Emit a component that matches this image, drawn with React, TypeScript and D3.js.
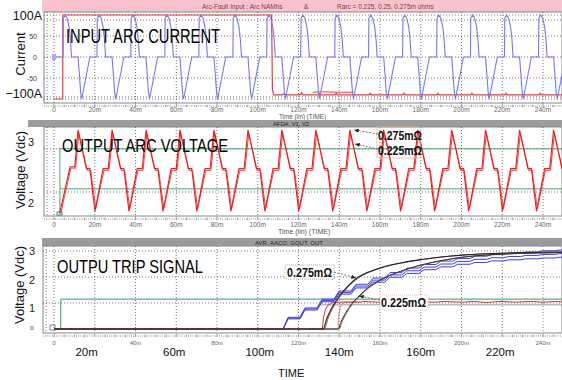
import React from "react";
import * as d3 from "d3";

// ---------- shared x axis (time, ms) ----------
const xTicks = [0, 20, 40, 60, 80, 100, 120, 140, 160, 180, 200, 220, 240];
const xTickText = ["0", "20m", "40m", "60m", "80m", "100m", "120m", "140m", "160m", "180m", "200m", "220m", "240m"];
const p3SmallTicks = [0, 40, 80, 120, 160, 200, 240];
const p3SmallText = ["0", "40m", "80m", "120m", "160m", "200m", "240m"];
const p3BigAt = [16, 59, 101, 140, 180, 219];
const p3BigText = ["20m", "60m", "100m", "140m", "160m", "220m"];

// ---------- panel 1 : input arc current (A) ----------
const curGrid = [100, 88, 50, 0, -50, -95, -100];
const curTickVals = [50, 0, -50];
const curTickText = ["50", "0", "-50"];
const curJumpTimes = [4.4, 21.1, 37.7, 54.4, 71.1, 87.8, 104.4, 121.1, 137.8, 154.4, 171.1, 187.8, 204.4, 221.1, 237.8];
const curCycleOffset = [0, 0.15, 1.0, 2.0, 3.0, 3.7, 4.2, 7.4, 8.1, 8.7, 9.2, 13.2];
const curCycleValue = [0, 92, 100, 93, 72, 40, 0, 0, -45, -85, -100, 0];
const curRed: [number, number][] = [
  [0, -100], [4.3, -100], [4.35, 100], [106.8, 100], [107.2, -78], [107.8, -90], [112, -90], [113, -87], [113.6, -90],
  [121, -90], [121.6, -85], [122.2, -90], [129.5, -90], [130, -87], [130.5, -90], [138, -90], [138.5, -86], [139, -90],
  [154.6, -90], [155.1, -86], [155.6, -90], [171.3, -90], [171.8, -86], [172.3, -90], [179.5, -90], [180, -88], [180.5, -90],
  [188, -90], [188.5, -86], [189, -90], [204.6, -90], [205.1, -86], [205.6, -90], [213, -90], [213.5, -88], [214, -90],
  [221.3, -90], [221.8, -86], [222.3, -90], [238, -90], [238.5, -86], [239, -90], [250, -90],
];
const curRed2: [number, number][] = [[127, -84], [133, -83], [140, -84], [147, -84]];

// ---------- panel 2 : output arc voltage (V) ----------
const voltGrid = [2.96, 2.0];
const voltTickVals = [3.11, 2.02, 1.76];
const voltTickText = ["3", "-", "2"];
const voltStartTimes = [2.9, 7.9, 10.2];
const voltStartValues = [1.55, 2.56, 2.56];
const voltPeakTimes = [11.8, 28.5, 45.2, 61.8, 78.5, 95.2, 111.8, 128.5, 145.2, 161.8, 178.5, 195.2, 211.8, 228.5, 245.2];
const voltCycleOffset = [0, 4.1, 5.8, 8.3, 12.3, 14.8];
const voltCycleA = [3.38, 2.52, 2.52, 1.57, 2.52, 2.52];
const voltCycleB = [3.3, 2.48, 2.48, 1.63, 2.48, 2.48];
const voltGreenHigh: [number, number][] = [[2.9, 1.5], [2.9, 2.96], [250, 2.96]];
const voltGreenLow: [number, number][] = [[2.9, 2.07], [250, 2.07]];

// ---------- panel 3 : trip signal (V) ----------
const tripGrid = [3, 2, 1];
const tripTickVals = [3.0, 1.9, 0.8, 0.05];
const tripTickText = ["3", "2", "1", "0"];
const tripStepTimes = [112.4, 120.7, 129.1, 137.4, 145.7, 154.1, 162.4, 170.7, 179.1, 187.4, 195.7, 204.1, 212.4, 220.7, 229.1, 237.4, 245.7];
const tripMid = [0.42, 0.77, 1.1, 1.4, 1.65, 1.88, 2.08, 2.24, 2.38, 2.5, 2.6, 2.68, 2.74, 2.79, 2.83, 2.87, 2.9];
const tripUp = [0.45, 0.81, 1.15, 1.46, 1.72, 1.96, 2.17, 2.34, 2.48, 2.61, 2.71, 2.8, 2.86, 2.92, 2.96, 3.01, 3.04];
const tripLow = [0.39, 0.73, 1.05, 1.34, 1.58, 1.8, 1.99, 2.14, 2.28, 2.39, 2.49, 2.56, 2.62, 2.66, 2.7, 2.73, 2.76];
const trip275: [number, number][] = [
  [0, 0], [132, 0], [134, 0.42], [136, 0.76], [140, 1.26], [144, 1.63], [148.7, 1.96], [154, 2.18], [160, 2.35],
  [170, 2.54], [180, 2.67], [190, 2.77], [200, 2.84], [215, 2.9], [230, 2.94], [250, 2.96],
];
const trip225: [number, number][] = [
  [0, 0], [139.4, 0], [141, 0.3], [143, 0.6], [146, 0.96], [149.2, 1.23], [154, 1.58], [160, 1.88], [170, 2.22],
  [180, 2.46], [190, 2.63], [200, 2.76], [215, 2.86], [230, 2.91], [250, 2.94],
];
const tripRedA: [number, number][] = [
  [125, 0], [131.7, 0], [132.3, 0.45], [133.2, 0.75], [134.5, 0.92], [136.5, 1.01], [142, 1.04], [150, 1.03], [152, 1.06],
  [160, 1.03], [166, 1.06], [172, 1.03], [178, 1.07], [186, 1.03], [192, 1.06], [200, 1.03], [206, 1.06], [212, 1.02],
  [220, 1.06], [226, 1.03], [234, 1.06], [240, 1.03], [246, 1.06], [250, 1.04],
];
const tripRedB: [number, number][] = [[139.4, 0], [139.8, 0.5], [140.4, 0.82], [141.4, 0.98], [143, 1.03], [150, 1.04]];
const tripGreen: [number, number][] = [[0, 0], [3.3, 0], [3.35, 1.15], [250, 1.15]];
const tripGray: [number, number][] = [[131, 0.93], [250, 0.93]];

// ---------- helpers ----------
function cycles(starts: number[], offs: number[], vals: number[], shift = 0): [number, number][] {
  const out: [number, number][] = [];
  starts.forEach((s) => offs.forEach((o, i) => out.push([s + o + shift, vals[i]])));
  return out;
}
function steps(times: number[], levels: number[], ramp: number): [number, number][] {
  const out: [number, number][] = [[0, 0], [times[0], 0]];
  times.forEach((t, i) => {
    out.push([t + ramp, levels[i]]);
    out.push([i + 1 < times.length ? times[i + 1] : 250, levels[i]]);
  });
  return out;
}

const sans = "'Liberation Sans', Arial, Helvetica, sans-serif";
const narrow = "'Liberation Sans Narrow', 'Liberation Sans', Arial, sans-serif";

export default function App() {
  const x = d3.scaleLinear().domain([0, 240]).range([54, 543]);
  const y1 = d3.scaleLinear().domain([-100, 100]).range([99, 15]);
  const y2 = d3.scaleLinear().domain([2, 3]).range([192, 147]);
  const y3 = d3.scaleLinear().domain([0, 3]).range([329, 251]);

  const mk = (ys: d3.ScaleLinear<number, number>, curve: d3.CurveFactory = d3.curveLinear) =>
    d3.line<[number, number]>().x((d) => x(d[0])).y((d) => ys(d[1])).curve(curve);
  const l1 = mk(y1), l2 = mk(y2), l3 = mk(y3), l3c = mk(y3, d3.curveMonotoneX);

  const curBlue: [number, number][] = [[0, 0], ...cycles(curJumpTimes, curCycleOffset, curCycleValue), [254.5, 0]];
  const voltA: [number, number][] = [
    ...voltStartTimes.map((t, i) => [t, voltStartValues[i]] as [number, number]),
    ...cycles(voltPeakTimes, voltCycleOffset, voltCycleA),
    [261.9, voltCycleA[0]],
  ];
  const voltB: [number, number][] = [
    ...voltStartTimes.map((t, i) => [t + 0.4, voltStartValues[i] - 0.03] as [number, number]),
    ...cycles(voltPeakTimes, voltCycleOffset, voltCycleB, 0.4),
    [262.3, voltCycleB[0]],
  ];

  const frames = [
    { x0: 44, y0: 12, x1: 562, y1: 103, axis: 106, lab: 112 },
    { x0: 44, y0: 127, x1: 562, y1: 216, axis: 219, lab: 227 },
    { x0: 43, y0: 246, x1: 562, y1: 333, axis: 336, lab: 344.5 },
  ];
  const gridDash = "1,2";
  const gridCol = "#555";

  const vGrid = (f: typeof frames[0]) =>
    xTicks.map((t) => (
      <line key={t} x1={x(t)} x2={x(t)} y1={f.y0} y2={f.y1} stroke={gridCol} strokeDasharray={gridDash} strokeWidth={0.8} />
    ));
  const tickRow = (f: typeof frames[0]) => (
    <g>
      <line x1={f.x0} x2={f.x1} y1={f.axis} y2={f.axis} stroke="#888" strokeDasharray="1,1.2" strokeWidth={1} />
      {d3.range(0, 250, 5).map((t) => (
        <line key={t} x1={x(t)} x2={x(t)} y1={f.axis - (t % 20 === 0 ? 2.5 : 1.2)} y2={f.axis + 1} stroke="#777" strokeWidth={0.7} />
      ))}
    </g>
  );

  return (
    <svg width={562} height={380} style={{ position: "absolute", left: 0, top: 0, background: "#fff" }} fontFamily={sans}>
      <defs>
        <clipPath id="c1"><rect x={44} y={12} width={518} height={91} /></clipPath>
        <clipPath id="c2"><rect x={44} y={127} width={518} height={89} /></clipPath>
        <clipPath id="c3"><rect x={43} y={246} width={519} height={87} /></clipPath>
        <marker id="arr" viewBox="0 0 6 6" refX={6} refY={3} markerWidth={6} markerHeight={6} orient="auto">
          <path d="M0,0.5 L6,3 L0,5.5 z" fill="#222" />
        </marker>
      </defs>
      <rect x={0} y={0} width={562} height={380} fill="#fff" />

      {/* ================= PANEL 1 ================= */}
      <rect x={42} y={0} width={520} height={12} fill="#f8c3cd" />
      <text x={202} y={9} fontSize={6.5} fill="#8a3848">Arc-Fault Input : Arc NAMhs</text>
      <text x={304} y={9} fontSize={6.5} fill="#8a3848">&amp;</text>
      <text x={337} y={9} fontSize={6.5} fill="#8a3848">Rarc = 0.225, 0.25, 0.275m ohms</text>
      <rect x={44} y={12} width={518} height={91} fill="#fff" stroke="#888" strokeWidth={1} />
      <line x1={47} x2={47} y1={12} y2={103} stroke={gridCol} strokeDasharray={gridDash} strokeWidth={0.8} />
      {curGrid.map((v) => (
        <line key={v} x1={44} x2={562} y1={y1(v)} y2={y1(v)} stroke={gridCol} strokeDasharray={gridDash} strokeWidth={0.8} />
      ))}
      {vGrid(frames[0])}
      <g clipPath="url(#c1)">
        <path d={l1(curRed2) || ""} fill="none" stroke="#f04040" strokeWidth={1} />
        <path d={l1(curRed) || ""} fill="none" stroke="#f03a3a" strokeWidth={1.2} />
        <path d={l1(curBlue) || ""} fill="none" stroke="#7676f2" strokeWidth={1.1} />
        <rect x={x(0) - 2} y={y1(0) - 3} width={4} height={6} fill="#a8a8ff" />
      </g>
      {tickRow(frames[0])}
      {xTicks.map((t, i) => (
        <text key={t} x={x(t)} y={frames[0].lab} fontSize={6.5} fill="#666" textAnchor="middle">{xTickText[i]}</text>
      ))}
      <text x={42} y={20} fontSize={12.5} textAnchor="end" fill="#111">100A</text>
      <text x={42} y={98} fontSize={12.5} textAnchor="end" fill="#111">−100A</text>
      {curTickVals.map((v, i) => (
        <text key={v} x={37} y={y1(v) + 2.5} fontSize={7} textAnchor="end" fill="#444">{curTickText[i]}</text>
      ))}
      <text transform="translate(25,54) rotate(-90)" fontSize={13} textAnchor="middle" fill="#111">Current</text>
      <text x={66} y={43} fontSize={20} fontFamily={narrow} textLength={154} lengthAdjust="spacingAndGlyphs" fill="#000">INPUT ARC CURRENT</text>
      <text x={279} y={119.3} fontSize={6.3} fill="#555">Time (lin) (TIME)</text>

      {/* ================= PANEL 2 ================= */}
      <rect x={28} y={120} width={534} height={7} fill="#9c9c9c" />
      <text x={273} y={126.3} fontSize={5.8} fill="#222">AFDA, V1, V2</text>
      <rect x={44} y={127} width={518} height={89} fill="#fff" stroke="#888" strokeWidth={1} />
      <line x1={47} x2={47} y1={127} y2={216} stroke={gridCol} strokeDasharray={gridDash} strokeWidth={0.8} />
      {voltGrid.map((v) => (
        <line key={v} x1={44} x2={562} y1={y2(v)} y2={y2(v)} stroke={gridCol} strokeDasharray={gridDash} strokeWidth={0.8} />
      ))}
      {vGrid(frames[1])}
      <g clipPath="url(#c2)">
        <path d={l2(voltGreenHigh) || ""} fill="none" stroke="#3fae6a" strokeWidth={1} />
        <path d={l2(voltGreenLow) || ""} fill="none" stroke="#3fae6a" strokeWidth={1} />
        <path d={l2(voltB) || ""} fill="none" stroke="#f04848" strokeWidth={1} />
        <path d={l2(voltA) || ""} fill="none" stroke="#ee1c1c" strokeWidth={1.1} />
        <rect x={x(0) + 3} y={212} width={5} height={3} fill="none" stroke="#446" strokeWidth={0.7} />
      </g>
      {tickRow(frames[1])}
      {xTicks.map((t, i) => (
        <text key={t} x={x(t)} y={frames[1].lab} fontSize={6.5} fill="#666" textAnchor="middle">{xTickText[i]}</text>
      ))}
      {voltTickVals.map((v, i) => (
        <text key={v} x={31} y={y2(v) + 4} fontSize={11} textAnchor="middle" fill="#222">{voltTickText[i]}</text>
      ))}
      <text transform="translate(25,170) rotate(-90)" fontSize={13} textAnchor="middle" fill="#111">Voltage (Vdc)</text>
      <text x={62} y={152} fontSize={18} fontFamily={narrow} textLength={166} lengthAdjust="spacingAndGlyphs" fill="#000">OUTPUT ARC VOLTAGE</text>
      <rect x={377} y={127} width={43} height={31} fill="none" stroke="#eab69a" strokeWidth={0.8} />
      <line x1={378} y1={134} x2={354} y2={130} stroke="#555" strokeDasharray="2,1.5" strokeWidth={0.8} markerEnd="url(#arr)" />
      <line x1={378} y1={149} x2={355} y2={144} stroke="#555" strokeDasharray="2,1.5" strokeWidth={0.8} markerEnd="url(#arr)" />
      <text x={378} y={140} fontSize={12} fontWeight="bold" textLength={44} lengthAdjust="spacingAndGlyphs" fill="#111">0.275mΩ</text>
      <text x={378} y={155} fontSize={12} fontWeight="bold" textLength={44} lengthAdjust="spacingAndGlyphs" fill="#111">0.225mΩ</text>
      <text x={278} y={234} fontSize={7} fill="#555">Time (lin) (TIME)</text>

      {/* ================= PANEL 3 ================= */}
      <rect x={42} y={238} width={520} height={8} fill="#9c9c9c" />
      <text x={255} y={244.5} fontSize={6} fill="#222">AVR, AACO, GOUT, OUT</text>
      <rect x={43} y={246} width={519} height={87} fill="#fff" stroke="#888" strokeWidth={1} />
      <line x1={46} x2={46} y1={246} y2={333} stroke={gridCol} strokeDasharray={gridDash} strokeWidth={0.8} />
      {tripGrid.map((v) => (
        <line key={v} x1={43} x2={562} y1={y3(v)} y2={y3(v)} stroke={gridCol} strokeDasharray={gridDash} strokeWidth={0.8} />
      ))}
      {vGrid(frames[2])}
      <g clipPath="url(#c3)">
        <path d={l3(tripGreen) || ""} fill="none" stroke="#3a9a5c" strokeWidth={1} />
        <path d={l3(tripGray) || ""} fill="none" stroke="#9a9a9a" strokeWidth={1} />
        <path d={l3(tripRedB) || ""} fill="none" stroke="#f08080" strokeWidth={1} />
        <path d={l3(tripRedA) || ""} fill="none" stroke="#e82c2c" strokeWidth={1} />
        {[tripUp, tripMid, tripLow].map((lv, i) => (
          <path key={i} d={l3(steps(tripStepTimes, lv, 2.5)) || ""} fill="none" stroke="#3c3cf0" strokeWidth={1} />
        ))}
        <path d={l3c(trip225) || ""} fill="none" stroke="#9b5e52" strokeWidth={1} transform="translate(1,0)" />
        <path d={l3c(trip225) || ""} fill="none" stroke="#333" strokeWidth={1} />
        <path d={l3c(trip275) || ""} fill="none" stroke="#9b5e52" strokeWidth={1} transform="translate(1.2,0)" />
        <path d={l3c(trip275) || ""} fill="none" stroke="#222" strokeWidth={1.1} />
        <rect x={x(0) - 4} y={325} width={5} height={5} fill="none" stroke="#557" strokeWidth={0.7} />
      </g>
      {tickRow(frames[2])}
      {p3SmallTicks.map((t, i) => (
        <text key={t} x={x(t)} y={frames[2].lab} fontSize={6} fill="#666" textAnchor="middle">{p3SmallText[i]}</text>
      ))}
      {p3BigAt.map((t, i) => (
        <text key={t} x={x(t)} y={356} fontSize={11.5} fill="#111" textAnchor="middle">{p3BigText[i]}</text>
      ))}
      {tripTickVals.map((v, i) => (
        <text key={v} x={32} y={y3(v) + (i === 3 ? 2 : 4)} fontSize={i === 3 ? 6 : 11} textAnchor="middle" fill="#222">{tripTickText[i]}</text>
      ))}
      <text transform="translate(24,285) rotate(-90)" fontSize={13} textAnchor="middle" fill="#111">Voltage (Vdc)</text>
      <text x={57} y={273} fontSize={18} fontFamily={narrow} textLength={146} lengthAdjust="spacingAndGlyphs" fill="#000">OUTPU TRIP SIGNAL</text>
      <rect x={285} y={265} width={49} height={14} fill="#fff" stroke="#999" strokeDasharray="1,1" strokeWidth={0.8} />
      <text x={287} y={276.5} fontSize={12} fontWeight="bold" textLength={45} lengthAdjust="spacingAndGlyphs" fill="#111">0.275mΩ</text>
      <line x1={334} y1={272} x2={356} y2={278} stroke="#555" strokeDasharray="2,1.5" strokeWidth={0.8} markerEnd="url(#arr)" />
      <rect x={380} y={295} width={48} height={15} fill="#fff" stroke="#eab69a" strokeDasharray="1,1" strokeWidth={0.8} />
      <text x={381} y={307} fontSize={12} fontWeight="bold" textLength={45} lengthAdjust="spacingAndGlyphs" fill="#111">0.225mΩ</text>
      <line x1={380} y1={300} x2={359} y2={296} stroke="#555" strokeDasharray="2,1.5" strokeWidth={0.8} markerEnd="url(#arr)" />
      <text x={278} y={377} fontSize={11} fill="#111">TIME</text>
    </svg>
  );
}
